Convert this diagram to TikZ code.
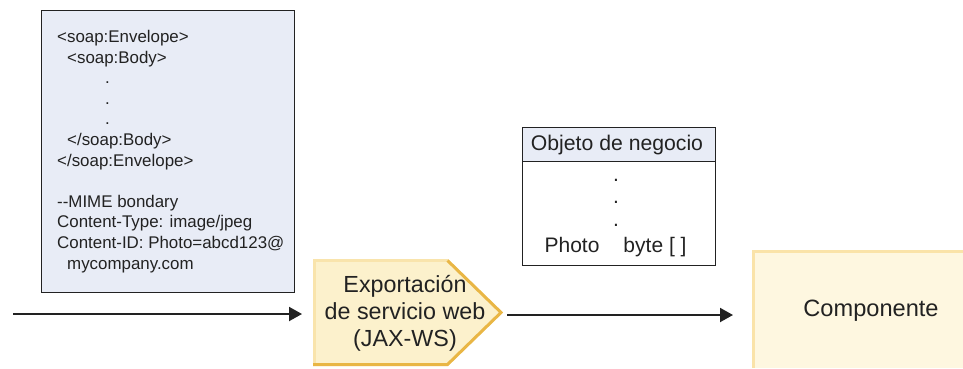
\documentclass[tikz,border=0pt]{standalone}
\usepackage{fontspec}
\setmainfont{Liberation Sans}
\usetikzlibrary{arrows.meta}
\definecolor{txt}{HTML}{222222}
\definecolor{boxblue}{HTML}{E8ECF6}
\definecolor{expfill}{HTML}{FCF1CC}
\definecolor{expline}{HTML}{E9B645}
\definecolor{explight}{HTML}{F9E4AC}
\definecolor{compfill}{HTML}{FEF7E0}
\definecolor{compline}{HTML}{FAE3A9}
\tikzset{
  flow/.style={draw=txt, line width=2pt, -{Triangle[length=13pt,width=14pt]}},
  plain/.style={draw=txt, line width=1pt},
  lbl/.style={text=txt, inner sep=0pt},
}
\begin{document}
\begin{tikzpicture}[x=1pt,y=-1pt]
\useasboundingbox (0,0) rectangle (963,368);
% SOAP message box
\node[draw=txt, fill=boxblue, line width=1pt, minimum width=253pt, minimum height=282pt, anchor=north west, inner sep=0pt] (env) at (41,10) {};
\node[lbl, anchor=north west, align=left, font=\fontsize{16.9}{20.6}\selectfont] (envtxt) at (57,30)
{<soap:Envelope>\\
\hspace*{10pt}<soap:Body>\\
\hspace*{48pt}.\\
\hspace*{48pt}.\\
\hspace*{48pt}.\\
\hspace*{10pt}</soap:Body>\\
</soap:Envelope>\\[20.6pt]
-{}-MIME bondary\\
Content-Type: image/jpeg\\
Content-ID: Photo=abcd123@\\
\hspace*{10pt}mycompany.com};
% export pentagon
\coordinate (in) at (13,314);
\fill[expfill] (313,259) -- (448,259) -- (503,312.5) -- (448,366) -- (313,366) -- cycle;
\draw[explight, line width=3pt] (314.5,366) -- (314.5,260.5) -- (448,260.5);
\draw[expline, line width=3pt, line join=miter] (447.5,260.5) -- (501,312.5) -- (447.5,364.5) -- (313,364.5);
\node[lbl, align=center, font=\fontsize{23.3}{27}\selectfont] (exp) at (405,313) {Exportación\\de servicio web\\(JAX-WS)};
\coordinate (expL) at (302,314);
\coordinate (expR) at (507,315);
\draw[flow] (in) -- (expL);
% business object
\node[draw=txt, line width=1pt, minimum width=193pt, minimum height=138pt, anchor=north west, inner sep=0pt] (bo) at (522,127) {};
\draw[plain, fill=boxblue] (522,127) rectangle (715,161.5);
\node[lbl, font=\fontsize{21.2}{24}\selectfont] (botitle) at (617,145) {Objeto de negocio};
\node[lbl, font=\fontsize{21}{24}\selectfont, anchor=base] (d1) at (616,181) {.};
\node[lbl, font=\fontsize{21}{24}\selectfont, anchor=base] (d2) at (616,203.5) {.};
\node[lbl, font=\fontsize{21}{24}\selectfont, anchor=base] (d3) at (616,226) {.};
\node[lbl, font=\fontsize{21}{24}\selectfont, anchor=base] (photo) at (572,252) {Photo};
\node[lbl, font=\fontsize{21}{24}\selectfont, anchor=base] (byte) at (655,252) {byte [ ]};
% component
\fill[compfill] (752,250) rectangle (963,368);
\draw[compline, line width=3pt] (753.5,368) -- (753.5,251.5) -- (963,251.5);
\node[lbl, font=\fontsize{23.6}{27}\selectfont] (comp) at (871,311) {Componente};
\coordinate (compL) at (733,315);
\draw[flow] (expR) -- (compL);
\end{tikzpicture}
\end{document}
